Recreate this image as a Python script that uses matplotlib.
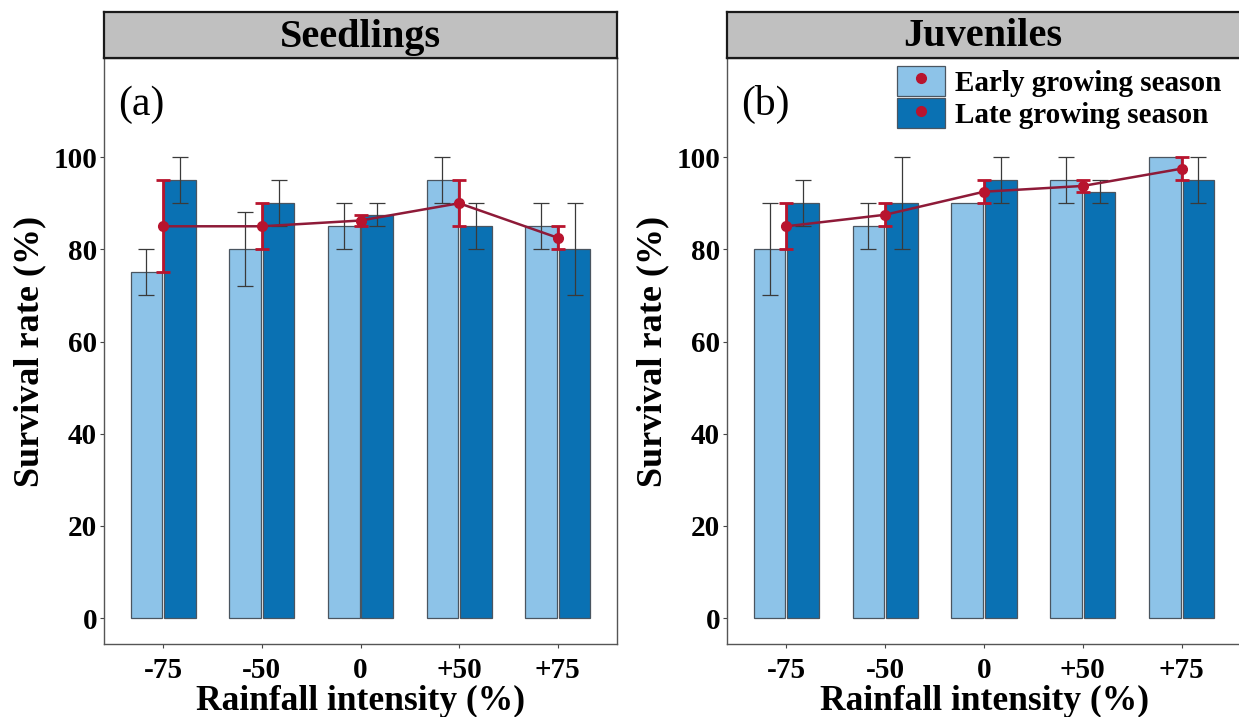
import matplotlib
matplotlib.use("Agg")
import matplotlib.pyplot as plt
import numpy as np
from matplotlib.patches import Patch
from matplotlib.lines import Line2D

plt.rcParams['font.family'] = ['Liberation Serif', 'DejaVu Serif']

categories = ["-75", "-50", "0", "+50", "+75"]

# Seedlings
seed_early = [75, 80, 85, 95, 85]
seed_early_err = [5, 8, 5, 5, 5]
seed_late = [95, 90, 87.5, 85, 80]
seed_late_err = [5, 5, 2.5, 5, 10]
seed_mean = [85, 85, 86.25, 90, 82.5]
seed_mean_err = [10, 5, 1.25, 5, 2.5]

# Juveniles
juv_early = [80, 85, 90, 95, 100]
juv_early_err = [10, 5, 0, 5, 0]
juv_late = [90, 90, 95, 92.5, 95]
juv_late_err = [5, 10, 5, 2.5, 5]
juv_mean = [85, 87.5, 92.5, 93.75, 97.5]
juv_mean_err = [5, 2.5, 2.5, 1.25, 2.5]

titles = ["Seedlings", "Juveniles"]
panel_tags = ["(a)", "(b)"]
legend_labels = ["Early growing season", "Late growing season"]
yticks = [0, 20, 40, 60, 80, 100]

LIGHT = "#8DC3E8"
DARK = "#0A71B3"
EDGE = "#4A5560"
RED = "#B8142E"
REDLINE = "#8E1A38"
ERRGRAY = "#3A3A3A"

W, H = 1239, 717
fig = plt.figure(figsize=(W / 100, H / 100), dpi=100)

def fx(px):
    return px / W

def fy(py):
    return 1 - py / H

panels = [
    (104, 617, seed_early, seed_early_err, seed_late, seed_late_err, seed_mean, seed_mean_err),
    (727, 1241, juv_early, juv_early_err, juv_late, juv_late_err, juv_mean, juv_mean_err),
]
top_px, bot_px, strip_top = 58, 644, 12

axes = []
for i, (x0, x1, e, ee, l, le, m, me) in enumerate(panels):
    ax = fig.add_axes([fx(x0), fy(bot_px), fx(x1 - x0), (bot_px - top_px) / H])
    axes.append(ax)
    x = np.arange(1, len(categories) + 1)
    bw = 0.32
    off = 0.17
    e = np.array(e); ee = np.array(ee); l = np.array(l); le = np.array(le)
    ax.bar(x - off, e, width=bw, color=LIGHT, edgecolor=EDGE, linewidth=0.9, zorder=2)
    ax.bar(x + off, l, width=bw, color=DARK, edgecolor=EDGE, linewidth=0.9, zorder=2)
    mk = ee > 0
    ax.errorbar((x - off)[mk], e[mk], yerr=ee[mk], fmt='none', ecolor=ERRGRAY,
                elinewidth=0.9, capsize=5.5, capthick=0.9, zorder=3)
    mk = le > 0
    ax.errorbar((x + off)[mk], l[mk], yerr=le[mk], fmt='none', ecolor=ERRGRAY,
                elinewidth=0.9, capsize=5.5, capthick=0.9, zorder=3)
    ax.plot(x, m, color=REDLINE, linewidth=1.8, zorder=4)
    ax.errorbar(x, m, yerr=me, fmt='none', ecolor=RED, elinewidth=2.0,
                capsize=5, capthick=2.0, zorder=5)
    ax.plot(x, m, 'o', color=RED, markersize=7, zorder=6)

    ax.set_xlim(0.4, 5.6)
    ax.set_ylim(-5.6, 121.5)
    ax.set_xticks(x)
    ax.set_xticklabels(categories)
    ax.set_yticks(yticks)
    ax.set_yticklabels([str(t) for t in yticks])
    ax.tick_params(axis='both', length=3, width=0.8, color="#444444",
                   labelsize=21, pad=2)
    ax.tick_params(axis='x', pad=6)
    for lab in ax.get_xticklabels() + ax.get_yticklabels():
        lab.set_fontweight('bold')
    for s in ax.spines.values():
        s.set_color("#555555")
        s.set_linewidth(1.0)
    ax.set_xlabel("Rainfall intensity (%)", fontsize=25.5, fontweight='bold', labelpad=1)
    ax.set_ylabel("Survival rate (%)", fontsize=26, fontweight='bold', labelpad=5)
    ax.text(0.027, 0.92, panel_tags[i], transform=ax.transAxes, fontsize=30,
            ha='left', va='center')

    # strip
    sax = fig.add_axes([fx(x0), fy(top_px), fx(x1 - x0), (top_px - strip_top) / H])
    sax.set_xticks([]); sax.set_yticks([])
    sax.set_facecolor("#C0C0C0")
    for s in sax.spines.values():
        s.set_color("#1A1A1A")
        s.set_linewidth(1.6)
    cx = (x0 + min(x1, W)) / 2
    fig.text(fx(cx), fy((strip_top + top_px) / 2 + 2),
             titles[i], fontsize=29, fontweight='bold', ha='center', va='center')

# legend
ax = axes[1]
handles = [
    (Patch(facecolor=LIGHT, edgecolor=EDGE, linewidth=0.9),
     Line2D([], [], marker='o', color=RED, linestyle='none', markersize=7)),
    (Patch(facecolor=DARK, edgecolor=EDGE, linewidth=0.9),
     Line2D([], [], marker='o', color=RED, linestyle='none', markersize=7)),
]
leg = ax.legend(handles, legend_labels, loc='upper left',
                bbox_to_anchor=((897 - 727) / 514, (644 - 66) / 586),
                frameon=False, borderpad=0, borderaxespad=0,
                handlelength=1.65, handleheight=1.2, labelspacing=0.05,
                handletextpad=0.35, prop={'family': 'Liberation Serif', 'weight': 'bold', 'size': 21})

fig.savefig("out.png", dpi=100)
